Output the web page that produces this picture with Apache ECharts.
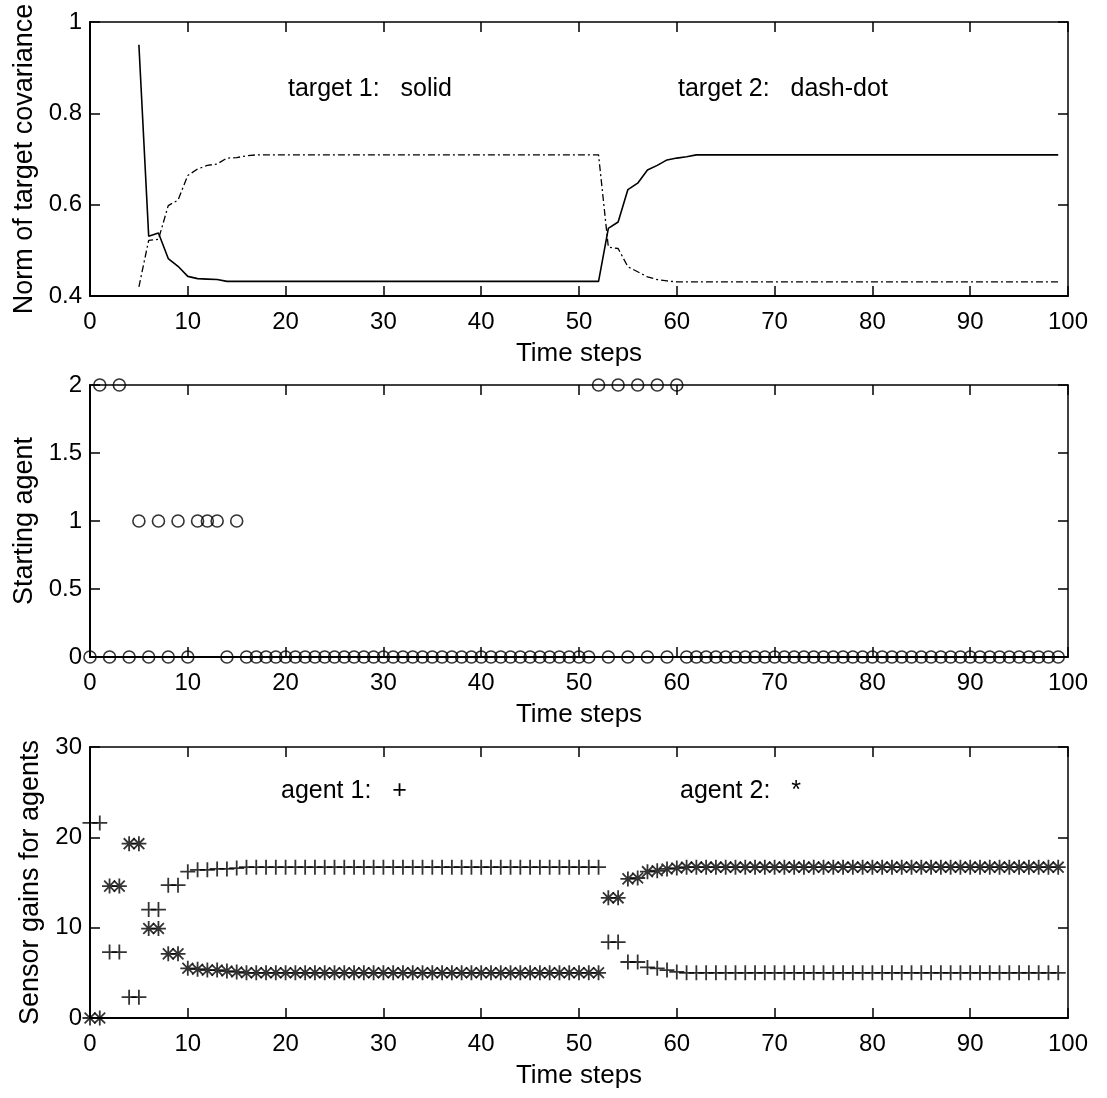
<!DOCTYPE html>
<html>
<head>
<meta charset="utf-8">
<script src="https://cdn.jsdelivr.net/npm/echarts@6/dist/echarts.min.js"></script>
<style>
html,body{margin:0;padding:0;background:#fff;}
#c{width:1107px;height:1098px;}
</style>
</head>
<body>
<div id="c"></div>
<script>
// x ticks
const xTicks = [0,10,20,30,40,50,60,70,80,90,100];

// Norm of target covariance, time steps 0..99
const target1 = [
 null,null,null,null,null,0.95,0.531,0.538,0.482,0.465,
 0.443,0.438,0.437,0.436,0.432,0.432,0.432,0.432,0.432,0.432,
 0.432,0.432,0.432,0.432,0.432,0.432,0.432,0.432,0.432,0.432,
 0.432,0.432,0.432,0.432,0.432,0.432,0.432,0.432,0.432,0.432,
 0.432,0.432,0.432,0.432,0.432,0.432,0.432,0.432,0.432,0.432,
 0.432,0.432,0.432,0.548,0.562,0.633,0.647,0.676,0.686,0.698,
 0.702,0.705,0.709,0.709,0.709,0.709,0.709,0.709,0.709,0.709,
 0.709,0.709,0.709,0.709,0.709,0.709,0.709,0.709,0.709,0.709,
 0.709,0.709,0.709,0.709,0.709,0.709,0.709,0.709,0.709,0.709,
 0.709,0.709,0.709,0.709,0.709,0.709,0.709,0.709,0.709,0.709
];
const target2 = [
 null,null,null,null,null,0.42,0.522,0.524,0.598,0.61,
 0.664,0.678,0.686,0.689,0.702,0.703,0.707,0.709,0.709,0.709,
 0.709,0.709,0.709,0.709,0.709,0.709,0.709,0.709,0.709,0.709,
 0.709,0.709,0.709,0.709,0.709,0.709,0.709,0.709,0.709,0.709,
 0.709,0.709,0.709,0.709,0.709,0.709,0.709,0.709,0.709,0.709,
 0.709,0.709,0.709,0.507,0.504,0.464,0.453,0.442,0.436,0.433,
 0.431,0.431,0.431,0.431,0.431,0.431,0.431,0.431,0.431,0.431,
 0.431,0.431,0.431,0.431,0.431,0.431,0.431,0.431,0.431,0.431,
 0.431,0.431,0.431,0.431,0.431,0.431,0.431,0.431,0.431,0.431,
 0.431,0.431,0.431,0.431,0.431,0.431,0.431,0.431,0.431,0.431
];
// Starting agent, time steps 0..99
const startAgent = [
 0,2,0,2,0,1,0,1,0,1,
 0,1,1,1,0,1,0,0,0,0,
 0,0,0,0,0,0,0,0,0,0,
 0,0,0,0,0,0,0,0,0,0,
 0,0,0,0,0,0,0,0,0,0,
 0,0,2,0,2,0,2,0,2,0,
 2,0,0,0,0,0,0,0,0,0,
 0,0,0,0,0,0,0,0,0,0,
 0,0,0,0,0,0,0,0,0,0,
 0,0,0,0,0,0,0,0,0,0
];
// Sensor gains, time steps 0..99
const gainAgent1 = [
 21.6,21.6,7.3,7.3,2.3,2.3,12.0,12.0,14.7,14.7,
 16.2,16.4,16.4,16.5,16.5,16.6,16.7,16.7,16.7,16.7,
 16.7,16.7,16.7,16.7,16.7,16.7,16.7,16.7,16.7,16.7,
 16.7,16.7,16.7,16.7,16.7,16.7,16.7,16.7,16.7,16.7,
 16.7,16.7,16.7,16.7,16.7,16.7,16.7,16.7,16.7,16.7,
 16.7,16.7,16.7,8.4,8.4,6.2,6.2,5.6,5.5,5.3,
 5.1,5.0,5.0,5.0,5.0,5.0,5.0,5.0,5.0,5.0,
 5.0,5.0,5.0,5.0,5.0,5.0,5.0,5.0,5.0,5.0,
 5.0,5.0,5.0,5.0,5.0,5.0,5.0,5.0,5.0,5.0,
 5.0,5.0,5.0,5.0,5.0,5.0,5.0,5.0,5.0,5.0
];
const gainAgent2 = [
 0,0,14.6,14.6,19.3,19.3,9.9,9.9,7.1,7.1,
 5.5,5.4,5.3,5.3,5.2,5.1,5.0,5.0,5.0,5.0,
 5.0,5.0,5.0,5.0,5.0,5.0,5.0,5.0,5.0,5.0,
 5.0,5.0,5.0,5.0,5.0,5.0,5.0,5.0,5.0,5.0,
 5.0,5.0,5.0,5.0,5.0,5.0,5.0,5.0,5.0,5.0,
 5.0,5.0,5.0,13.3,13.3,15.4,15.5,16.2,16.3,16.5,
 16.6,16.7,16.7,16.7,16.7,16.7,16.7,16.7,16.7,16.7,
 16.7,16.7,16.7,16.7,16.7,16.7,16.7,16.7,16.7,16.7,
 16.7,16.7,16.7,16.7,16.7,16.7,16.7,16.7,16.7,16.7,
 16.7,16.7,16.7,16.7,16.7,16.7,16.7,16.7,16.7,16.7
];

const toPairs = arr => arr.map((v, i) => [i, v]).filter(p => p[1] !== null);

const FONT = 'Liberation Sans, Arial, sans-serif';
const tickFont = 24;
const xNameFont = 26;
const yNameFont = 27;

function xAxes(gi){
  return [
    {gridIndex: gi, type:'value', min:0, max:100, interval:10, position:'bottom',
     axisLine:{show:true, onZero:false, lineStyle:{color:'#000', width:2}},
     axisTick:{show:true, inside:true, length:10, lineStyle:{color:'#000', width:1.5}},
     axisLabel:{show:true, color:'#000', fontSize:tickFont, fontFamily:FONT, margin:14},
     splitLine:{show:false},
     name:'Time steps', nameLocation:'middle', nameGap:45,
     nameTextStyle:{color:'#000', fontSize:xNameFont, fontFamily:FONT}},
    {gridIndex: gi, type:'value', min:0, max:100, interval:10, position:'top',
     axisLine:{show:true, onZero:false, lineStyle:{color:'#000', width:1.5}},
     axisTick:{show:true, inside:true, length:10, lineStyle:{color:'#000', width:1.5}},
     axisLabel:{show:false}, splitLine:{show:false}}
  ];
}
function yAxes(gi, min, max, interval, name){
  return [
    {gridIndex: gi, type:'value', min:min, max:max, interval:interval, position:'left',
     axisLine:{show:true, onZero:false, lineStyle:{color:'#000', width:2}},
     axisTick:{show:true, inside:true, length:10, lineStyle:{color:'#000', width:1.5}},
     axisLabel:{show:true, color:'#000', fontSize:tickFont, fontFamily:FONT, margin:8},
     splitLine:{show:false},
     name:name, nameLocation:'middle', nameGap:43, nameRotate:90,
     nameTextStyle:{color:'#000', fontSize:yNameFont, fontFamily:FONT}},
    {gridIndex: gi, type:'value', min:min, max:max, interval:interval, position:'right',
     axisLine:{show:true, onZero:false, lineStyle:{color:'#000', width:1.5}},
     axisTick:{show:true, inside:true, length:10, lineStyle:{color:'#000', width:1.5}},
     axisLabel:{show:false}, splitLine:{show:false}}
  ];
}

const plusPath = 'path://M0,-1L0,1M-1,0L1,0';
const starPath = 'path://M0,-1L0,1M-1,0L1,0M-0.72,-0.72L0.72,0.72M-0.72,0.72L0.72,-0.72';

const chart = echarts.init(document.getElementById('c'), null, {renderer:'canvas'});
chart.setOption({
  animation:false,
  backgroundColor:'#fff',
  grid:[
    {left:90, right:39, top:22, height:274},
    {left:90, right:39, top:385, height:272},
    {left:90, right:39, top:747, height:271}
  ],
  xAxis:[].concat(xAxes(0), xAxes(1), xAxes(2)),
  yAxis:[].concat(
    yAxes(0, 0.4, 1, 0.2, 'Norm of target covariance'),
    yAxes(1, 0, 2, 0.5, 'Starting agent'),
    yAxes(2, 0, 30, 10, 'Sensor gains for agents')
  ),
  graphic:[
    {type:'text', left:288, top:77, style:{text:'target 1:   solid', font:'25px '+FONT, fill:'#000'}},
    {type:'text', left:678, top:77, style:{text:'target 2:   dash-dot', font:'25px '+FONT, fill:'#000'}},
    {type:'text', left:281, top:779, style:{text:'agent 1:   +', font:'25px '+FONT, fill:'#000'}},
    {type:'text', left:680, top:779, style:{text:'agent 2:   *', font:'25px '+FONT, fill:'#000'}}
  ],
  series:[
    {type:'line', xAxisIndex:0, yAxisIndex:0, data:toPairs(target1), showSymbol:false, symbol:'none',
     lineStyle:{color:'#000', width:1.6, type:'solid'}},
    {type:'line', xAxisIndex:0, yAxisIndex:0, data:toPairs(target2), showSymbol:false, symbol:'none',
     lineStyle:{color:'#000', width:1.3, type:[7,3,2,3]}},
    {type:'scatter', xAxisIndex:2, yAxisIndex:2, data:toPairs(startAgent), symbol:'circle', symbolSize:12,
     itemStyle:{color:'transparent', borderColor:'#000', borderWidth:1.6}},
    {type:'scatter', xAxisIndex:4, yAxisIndex:4, data:toPairs(gainAgent1), symbol:plusPath, symbolSize:15,
     itemStyle:{color:'transparent', borderColor:'#000', borderWidth:1.8}},
    {type:'scatter', xAxisIndex:4, yAxisIndex:4, data:toPairs(gainAgent2), symbol:starPath, symbolSize:15,
     itemStyle:{color:'transparent', borderColor:'#000', borderWidth:1.8}}
  ]
});
</script>
</body>
</html>
